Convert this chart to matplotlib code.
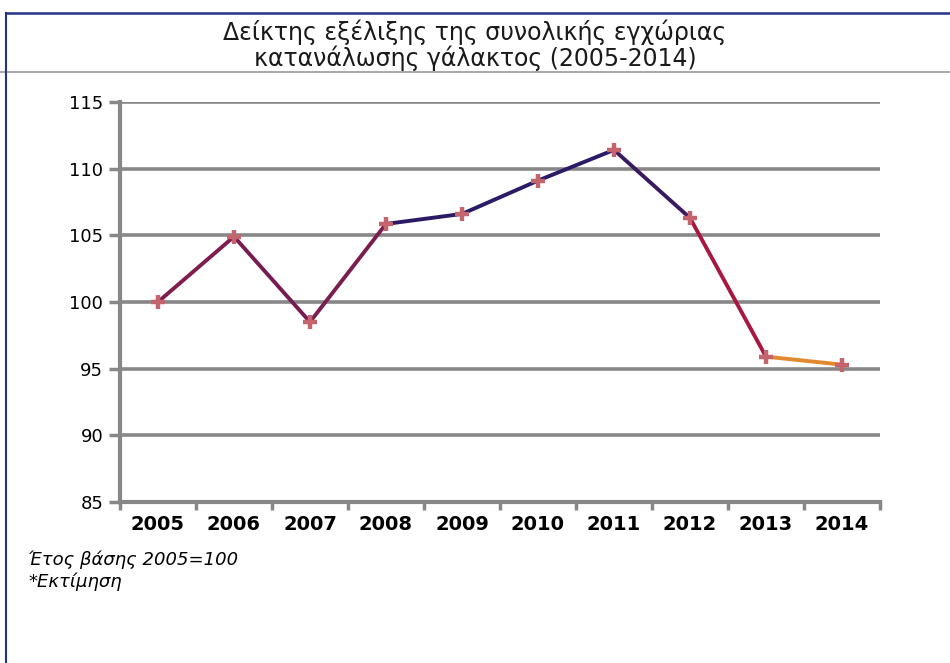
import numpy as np
import matplotlib.pyplot as plt
from matplotlib.lines import Line2D

years = ['2005', '2006', '2007', '2008', '2009', '2010', '2011', '2012', '2013', '2014']
index_values = [100.0, 104.9, 98.5, 105.85, 106.6, 109.1, 111.4, 106.3, 95.9, 95.3]

title = 'Δείκτης εξέλιξης της συνολικής εγχώριας\nκατανάλωσης γάλακτος (2005-2014)'
notes = ['Έτος βάσης 2005=100', '*Εκτίμηση']

# colour of each line piece, from one point to the next
seg_colors = ['#7e1d4e', '#761c52', '#7a1e50', '#2c1a66', '#2a1a68',
              '#2c1a66', '#3a1a5e', '#a8173f', '#e0892e']

plt.rcParams['font.family'] = ['DejaVu Sans']

fig = plt.figure(figsize=(9.5, 6.63), dpi=100)
ax = fig.add_axes([0.1263, 0.2428, 0.8, 0.6035])

x = np.arange(len(years))
for i in range(len(x) - 1):
    ax.plot(x[i:i + 2], index_values[i:i + 2], color=seg_colors[i], lw=2.8,
            solid_capstyle='round', zorder=3)
ax.plot(x, index_values, ls='none', marker='+', ms=10, mew=3.2,
        color='#c4646c', zorder=4)

ax.set_xlim(-0.5, len(years) - 0.5)
ax.set_ylim(85, 115)
ax.set_yticks(np.arange(85, 116, 5))
ax.yaxis.grid(True, color='#878787', lw=2.6)
ax.set_axisbelow(True)

ax.set_xticks(x)
ax.set_xticklabels(years, fontsize=14, fontweight='bold')
ax.set_xticks(np.arange(-0.5, len(years)), minor=True)
ax.tick_params(axis='x', which='major', length=0, pad=9)
ax.tick_params(axis='x', which='minor', length=6, width=2.5, color='#878787')
ax.tick_params(axis='y', length=8, width=2.5, color='#878787', labelsize=13, pad=4)

for s in ['top', 'right']:
    ax.spines[s].set_visible(False)
for s in ['left', 'bottom']:
    ax.spines[s].set_color('#878787')
    ax.spines[s].set_linewidth(3)

fig.text(0.5, 0.932, title, ha='center', va='center', fontsize=17,
         linespacing=1.0, color='#1a1a1a')
fig.text(0.03, 0.155, notes[0], ha='left', va='center', fontsize=13,
         style='italic')
fig.text(0.03, 0.122, notes[1], ha='left', va='center', fontsize=13,
         style='italic')

# frame and title separator
fig.add_artist(Line2D([0.0, 1.0], [0.891, 0.891], color='#9a9a9a', lw=1.2))
fig.add_artist(Line2D([0.0065, 0.0065], [0.0, 0.98], color='#23328a', lw=1.5))
fig.add_artist(Line2D([0.0065, 1.0], [0.98, 0.98], color='#23328a', lw=1.8))

fig.savefig('out.png', dpi=100)
